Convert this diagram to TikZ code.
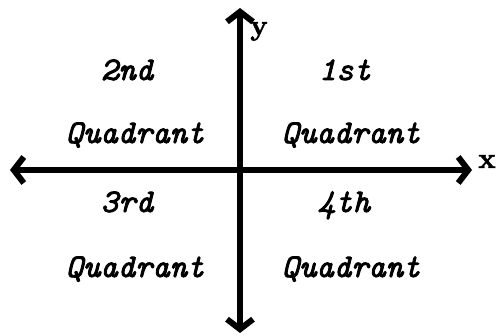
\documentclass[tikz,border=0pt]{standalone}
\usepackage{fontspec}
\usetikzlibrary{arrows.meta}
\newfontface\qfont{lmmono10-italic.otf}[FakeBold=2.5]
\newfontface\afont{lmroman10-bold.otf}[FakeBold=1.5]
\tikzset{
  axis/.style={line width=6pt, {Straight Barb[length=10pt,width=26pt,line width=6pt]}-{Straight Barb[length=10pt,width=26pt,line width=6pt]}},
  qlabel/.style={font=\qfont\fontsize{33}{34}\selectfont, inner sep=0pt, anchor=base},
  alabel/.style={font=\afont\fontsize{29}{31}\selectfont, inner sep=0pt, anchor=base}
}
\begin{document}
\begin{tikzpicture}[x=1pt,y=-1pt]
\useasboundingbox (0,0) rectangle (496,336);
\coordinate (L) at (10,170);
\coordinate (R) at (472,170);
\coordinate (T) at (240,8);
\coordinate (B) at (240,333);
\draw[axis] (L) -- (R);
\draw[axis] (B) -- (T);
\node[alabel] (xl) at (487,168) {x};
\node[alabel] (yl) at (259,35) {y};
\node[qlabel] (n2) at (127,80) {2nd};
\node[qlabel] (q2) at (135,143) {Quadrant};
\node[qlabel] (n1) at (345,80) {1st};
\node[qlabel] (q1) at (351,143) {Quadrant};
\node[qlabel] (n3) at (127,212) {3rd};
\node[qlabel] (q3) at (135,277) {Quadrant};
\node[qlabel] (n4) at (344,212) {4th};
\node[qlabel] (q4) at (351,277) {Quadrant};
\end{tikzpicture}
\end{document}
